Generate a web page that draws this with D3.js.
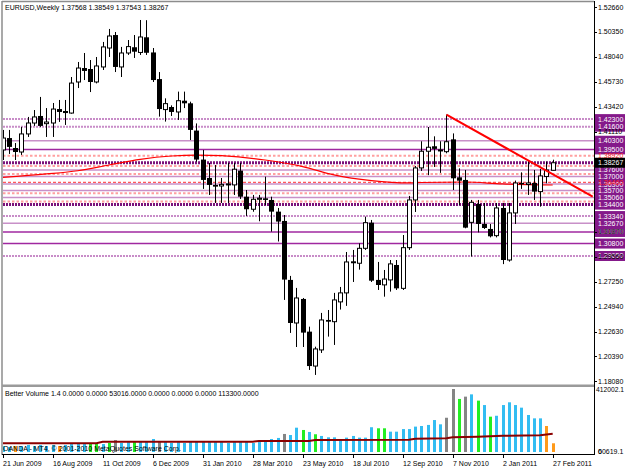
<!DOCTYPE html>
<html><head><meta charset="utf-8">
<script src="https://cdn.jsdelivr.net/npm/d3@7"></script>
<style>
html,body{margin:0;padding:0;background:#fff;}
svg{display:block;}
text{font-family:'Liberation Sans',Arial,sans-serif;font-size:7px;}
</style>
</head><body>
<svg id="c" width="625" height="469"></svg>
<script>
// ---------- DATA ----------
const symbol = "EURUSD,Weekly";
const lastOHLC = ["1.37568","1.38549","1.37543","1.38267"];
const open  = [1.3945,1.4055,1.3963,1.3926,1.4093,1.4194,1.4259,1.4188,1.4194,1.4323,1.4305,1.4286,1.4573,1.4702,1.4693,1.4573,1.4712,1.4887,1.5007,1.4712,1.4841,1.4894,1.4846,1.4986,1.4846,1.4600,1.4318,1.4342,1.4296,1.4400,1.4376,1.4124,1.3856,1.3686,1.3622,1.3612,1.3622,1.3622,1.3754,1.3513,1.3397,1.3489,1.3498,1.3483,1.3375,1.3289,1.2744,1.2346,1.2568,1.2266,1.1948,1.2097,1.2374,1.2358,1.2541,1.2624,1.2916,1.2898,1.3036,1.3273,1.2744,1.2698,1.2744,1.2882,1.2666,1.3042,1.3483,1.3779,1.3933,1.3979,1.3942,1.3929,1.4043,1.3692,1.3668,1.3276,1.3446,1.3261,1.3215,1.3153,1.3409,1.2928,1.3363,1.3640,1.3626,1.3640,1.3560,1.3700,1.37568];
const high  = [1.4130,1.4130,1.4009,1.4158,1.4250,1.4314,1.4435,1.4332,1.4379,1.4407,1.4407,1.4619,1.4758,1.4841,1.4776,1.4804,1.4943,1.5063,1.5035,1.4897,1.4961,1.5007,1.5146,1.5144,1.4887,1.4665,1.4422,1.4357,1.4484,1.4484,1.4391,1.4190,1.3945,1.3825,1.3806,1.3686,1.3825,1.3825,1.3825,1.3575,1.3529,1.3529,1.3698,1.3513,1.3409,1.3344,1.2781,1.2670,1.2577,1.2312,1.2127,1.2439,1.2466,1.2624,1.2679,1.3002,1.3021,1.3082,1.3329,1.3298,1.2910,1.2836,1.2928,1.2928,1.3159,1.3520,1.3797,1.4025,1.4157,1.4071,1.4025,1.4272,1.4098,1.3775,1.3760,1.3483,1.3483,1.3455,1.3261,1.3455,1.3455,1.3455,1.3662,1.3738,1.3852,1.3760,1.3770,1.3837,1.38549];
const low   = [1.3852,1.3908,1.3852,1.3899,1.4065,1.4167,1.4158,1.4065,1.4065,1.4204,1.4176,1.4280,1.4517,1.4591,1.4480,1.4560,1.4684,1.4804,1.4665,1.4619,1.4823,1.4795,1.4823,1.4823,1.4573,1.4253,1.4207,1.4259,1.4222,1.4332,1.4037,1.3836,1.3585,1.3529,1.3455,1.3455,1.3455,1.3529,1.3492,1.3335,1.3374,1.3286,1.3436,1.3190,1.3099,1.2559,1.2254,1.2124,1.2124,1.1912,1.1866,1.2069,1.2220,1.2143,1.2470,1.2504,1.2725,1.2839,1.3021,1.2725,1.2651,1.2589,1.2636,1.2651,1.2651,1.3021,1.3372,1.3751,1.3712,1.3788,1.3733,1.3914,1.3575,1.3437,1.3221,1.2960,1.3183,1.3215,1.3137,1.3137,1.2890,1.2913,1.3261,1.3585,1.3529,1.3483,1.3421,1.3637,1.37543];
const close = [1.4055,1.3973,1.3926,1.4093,1.4194,1.4250,1.4167,1.4203,1.4323,1.4296,1.4286,1.4563,1.4702,1.4675,1.4573,1.4721,1.4897,1.4998,1.4712,1.4841,1.4900,1.4853,1.4989,1.4843,1.4591,1.4323,1.4373,1.4296,1.4400,1.4376,1.4130,1.3856,1.3668,1.3622,1.3606,1.3627,1.3631,1.3767,1.3513,1.3397,1.3489,1.3499,1.3483,1.3375,1.3283,1.2747,1.2346,1.2577,1.2257,1.1948,1.2106,1.2374,1.2358,1.2559,1.2624,1.2910,1.2898,1.3036,1.3273,1.2737,1.2697,1.2752,1.2892,1.2666,1.3042,1.3483,1.3779,1.3933,1.3970,1.3955,1.3945,1.4021,1.3683,1.3661,1.3227,1.3461,1.3261,1.3224,1.3147,1.3409,1.2928,1.3363,1.3640,1.3627,1.3640,1.3560,1.3705,1.3760,1.38267];

const volume = [39000,33000,39000,39000,46000,39000,46000,39000,46000,39000,46000,52000,52000,52000,59000,59000,52000,59000,78000,59000,65000,65000,72000,65000,85000,72000,65000,59000,65000,59000,65000,72000,72000,65000,65000,65000,59000,65000,65000,65000,59000,65000,72000,85000,92000,118000,111000,159000,144000,131000,116000,105000,96000,96000,78000,94000,105000,94000,94000,162000,155000,155000,133000,133000,150000,150000,166000,170000,177000,209000,181000,224000,412002,347000,362000,377000,336000,307000,231000,237000,307000,325000,307000,290000,242000,220000,220000,170000,57000];
const volKind = "bbobbbbbbobbbbggbgkbbgbbbkbbbbbbbbbbbbbbbbbbbkbbgbgbbbbbbbbbggbbbbbbbbbkkgkbgbgbbbbbbbboo".split("");

const maIdx = [0,7,12,17,22,27,31,35,42,48,53,59,65,67,74,80,88];
const maVal = [1.3691,1.3723,1.3753,1.3806,1.3858,1.3889,1.3898,1.3892,1.3852,1.3791,1.3714,1.3661,1.3640,1.3644,1.3649,1.3631,1.3621];

const volMaIdx = [0,15,16,40,41,49,50,65,66,71,72,76,80,86,88];
const volMaVal = [57000,57000,67000,67000,72000,72000,78500,80000,86000,90000,96000,100000,106000,110000,120000];

const trendIdx = [71, 94.4];
const trendVal = [1.4272, 1.3513];

const dottedLevels = [1.4230,1.4160,1.3334,1.2965];
const lightLevels  = [1.4030,1.3760,1.3700,1.3630,1.3570,1.3506,1.3267];
const solidLevels  = [1.3950,1.3187,1.3080];
const thickLevels  = [1.3827,1.3440];
const pinkDashLevels = [1.3892,1.3797,1.3723,1.3546,1.3468];
const redDashLevels  = [1.3646];
const boxLevels = [1.4230,1.4160,1.4030,1.3950,1.3760,1.3700,1.3630,1.3570,1.3506,1.3440,1.3334,1.3267,1.3187,1.3080,1.2965];
const redLabelLevels = [1.3892,1.3646];
const priceTicks = [1.52660,1.50350,1.48040,1.45730,1.43420,1.41110,1.31870,1.29560,1.27250,1.24940,1.22630,1.20390,1.18080];
const dateTickIdx = [0,8,16,24,32,40,48,56,64,72,80,88];
const dateLabels = ["21 Jun 2009","16 Aug 2009","11 Oct 2009","6 Dec 2009","31 Jan 2010","28 Mar 2010","23 May 2010","18 Jul 2010","12 Sep 2010","7 Nov 2010","2 Jan 2011","27 Feb 2011"];
const volTopLabel = "412002.1";
const volBottomLabels = ["0","60619.1"];
const volTitle = "Better Volume 1.4 0.0000 0.0000 53016.0000 0.0000 0.0000 0.0000 113300.0000";
const copyright = "OANDA - MT4, \u00a9 2001-2010 MetaQuotes Software Corp.";

// ---------- LAYOUT ----------
const svg = d3.select("#c");
const AX = 594;
const xs = d3.scaleLinear().domain([0,88]).range([2.7,552.7]);
const ys = d3.scaleLinear().domain([1.1808,1.5266]).range([381.2,7]);
const yv = d3.scaleLinear().domain([0,412002]).range([452,389]);

const defs = svg.append("defs");
defs.append("clipPath").attr("id","cp").append("rect").attr("x",3).attr("y",3).attr("width",AX-3).attr("height",381);
defs.append("clipPath").attr("id","cv").append("rect").attr("x",3).attr("y",388).attr("width",AX-3).attr("height",66);

const pp = svg.append("g").attr("clip-path","url(#cp)");

function hlines(arr, color, w, dash){
  pp.append("g").selectAll("line").data(arr).join("line")
    .attr("x1",3).attr("x2",AX).attr("y1",d=>ys(d)).attr("y2",d=>ys(d))
    .attr("stroke",color).attr("stroke-width",w).attr("stroke-dasharray",dash||null);
}
hlines(dottedLevels,"#c88cc8",2,"2,1");
hlines(lightLevels,"#c890c8",1.6);
hlines(solidLevels,"#a028a0",1.5);
hlines(thickLevels,"#7a127a",3,"2,1");
hlines(pinkDashLevels,"#ffa0a0",2,"2.5,2");
hlines(redDashLevels,"#ff3030",1,"3,2");

// moving average line
pp.append("path").datum(maIdx.map((d,k)=>[d,maVal[k]]))
  .attr("fill","none").attr("stroke","#ff0000").attr("stroke-width",1.2)
  .attr("d",d3.line().x(d=>xs(d[0])).y(d=>ys(d[1])).curve(d3.curveMonotoneX));

// candles
const idx = d3.range(open.length);
const cg = pp.append("g");
cg.selectAll("line").data(idx).join("line")
  .attr("x1",i=>Math.round(xs(i))+0.5).attr("x2",i=>Math.round(xs(i))+0.5)
  .attr("y1",i=>ys(high[i])).attr("y2",i=>ys(low[i]))
  .attr("stroke","#000").attr("stroke-width",1);
cg.selectAll("rect").data(idx).join("rect")
  .attr("x",i=>close[i]>=open[i]?Math.round(xs(i))-1.5:Math.round(xs(i))-2)
  .attr("width",i=>close[i]>=open[i]?4:5)
  .attr("y",i=>ys(Math.max(open[i],close[i])))
  .attr("height",i=>Math.max(1,Math.abs(ys(open[i])-ys(close[i]))))
  .attr("fill",i=>close[i]>=open[i]?"#fff":"#000")
  .attr("stroke",i=>close[i]>=open[i]?"#000":"none").attr("stroke-width",1);

// trend line
pp.append("line")
  .attr("x1",xs(trendIdx[0])).attr("y1",ys(trendVal[0]))
  .attr("x2",xs(trendIdx[1])).attr("y2",ys(trendVal[1]))
  .attr("stroke","#ff0000").attr("stroke-width",2);

// header
svg.append("text").attr("x",5).attr("y",10).attr("fill","#000")
  .text(symbol+"  "+lastOHLC.join(" "));

// ---------- VOLUME PANE ----------
const vp = svg.append("g").attr("clip-path","url(#cv)");
const vcol = {b:"#33bdf2",g:"#22ee22",k:"#858585",o:"#ff9a1a"};
vp.selectAll("rect").data(idx).join("rect")
  .attr("x",i=>Math.round(xs(i))-1).attr("width",3)
  .attr("y",i=>yv(volume[i])).attr("height",i=>yv(0)-yv(volume[i]))
  .attr("fill",i=>vcol[volKind[i]]);
vp.append("path").datum(volMaIdx.map((d,k)=>[d,volMaVal[k]]))
  .attr("fill","none").attr("stroke","#8b0000").attr("stroke-width",2)
  .attr("d",d3.line().x(d=>xs(d[0])).y(d=>yv(d[1])));
svg.append("text").attr("x",5).attr("y",396).attr("fill","#000").text(volTitle);
svg.append("text").attr("x",3).attr("y",451).attr("fill","#000").text(copyright);

// ---------- FRAME ----------
svg.append("line").attr("x1",2).attr("x2",2).attr("y1",1).attr("y2",455).attr("stroke","#8c8c8c").attr("stroke-width",1.5);
svg.append("line").attr("x1",2).attr("x2",AX).attr("y1",1.5).attr("y2",1.5).attr("stroke","#8c8c8c").attr("stroke-width",1.5);
svg.append("rect").attr("x",2).attr("y",384.5).attr("width",AX-2).attr("height",2.5).attr("fill","#9a9a9a");
svg.append("line").attr("x1",AX+0.5).attr("x2",AX+0.5).attr("y1",1).attr("y2",455).attr("stroke","#000");
svg.append("line").attr("x1",2).attr("x2",AX+1).attr("y1",454.5).attr("y2",454.5).attr("stroke","#000");

// ---------- RIGHT AXIS ----------
const ra = svg.append("g");
ra.selectAll("rect").data(boxLevels).join("rect")
  .attr("x",AX+1).attr("width",625-AX-1).attr("y",d=>ys(d)-5).attr("height",10)
  .attr("fill","#84198a");
ra.append("g").selectAll("text").data(boxLevels).join("text")
  .attr("x",AX+4).attr("y",d=>ys(d)+2.5).attr("fill","#fff").text(d=>d.toFixed(5));
ra.append("g").selectAll("text").data(redLabelLevels).join("text")
  .attr("x",AX+4).attr("y",d=>ys(d)+2.5).attr("fill","#ff2020").text(d=>d.toFixed(5));
// close label
ra.append("rect").attr("x",AX+1).attr("width",625-AX-1).attr("y",ys(close[close.length-1])-5).attr("height",10).attr("fill","#000");
ra.append("text").attr("x",AX+4).attr("y",ys(close[close.length-1])+2.5).attr("fill","#fff").text(lastOHLC[3]);
// price ticks
ra.append("g").selectAll("line").data(priceTicks).join("line")
  .attr("x1",AX).attr("x2",AX+3).attr("y1",d=>Math.round(ys(d))+0.5).attr("y2",d=>Math.round(ys(d))+0.5).attr("stroke","#000");
ra.append("g").selectAll("text").data(priceTicks).join("text")
  .attr("x",AX+4).attr("y",d=>ys(d)+2.5).attr("fill","#000").text(d=>d.toFixed(5));

// volume axis labels
svg.append("text").attr("x",AX+2).attr("y",yv(412002)+3).attr("fill","#000")
  .attr("textLength",28).attr("lengthAdjust","spacingAndGlyphs").text(volTopLabel);
svg.append("g").selectAll("text").data(volBottomLabels).join("text")
  .attr("x",AX+4).attr("y",yv(0)+2).attr("fill","#000").text(d=>d);

// ---------- DATE AXIS ----------
const da = svg.append("g");
da.selectAll("line").data(dateTickIdx).join("line")
  .attr("x1",i=>Math.round(xs(i))+0.5).attr("x2",i=>Math.round(xs(i))+0.5)
  .attr("y1",455).attr("y2",458).attr("stroke","#000");
da.selectAll("text").data(dateTickIdx).join("text")
  .attr("x",i=>Math.round(xs(i))).attr("y",466).attr("fill","#000")
  .text((i,k)=>dateLabels[k]);
</script>
</body></html>
